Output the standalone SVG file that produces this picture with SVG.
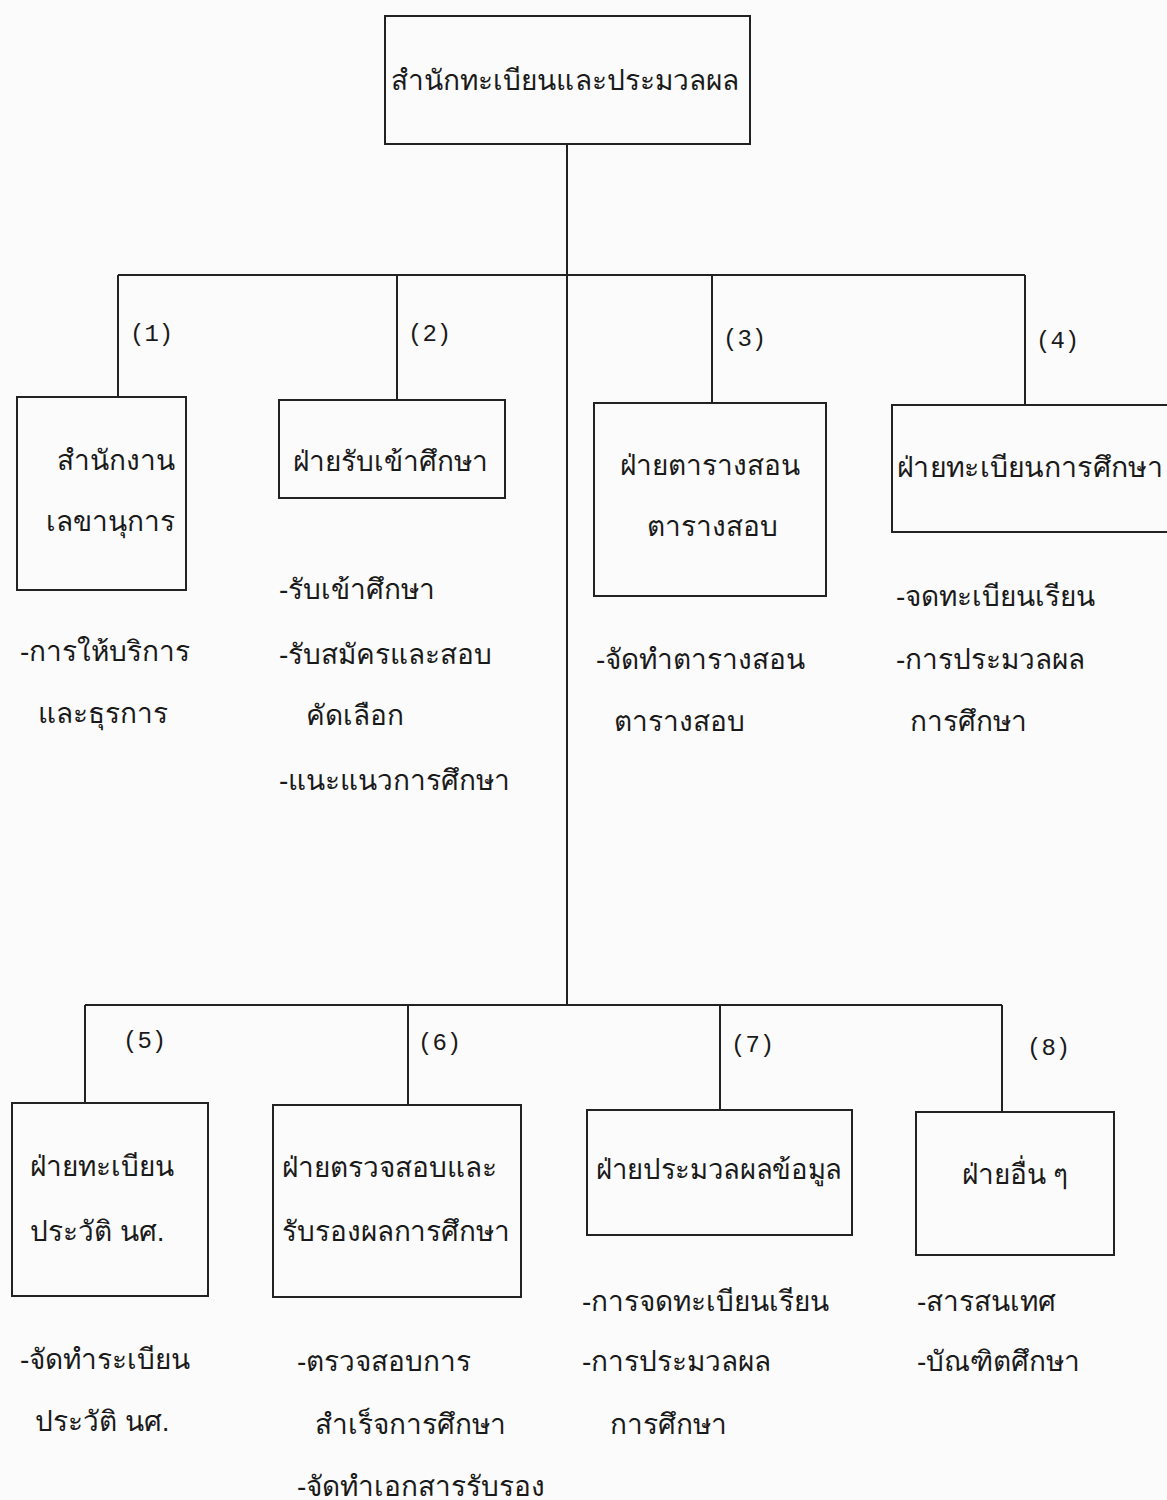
<svg xmlns="http://www.w3.org/2000/svg" width="1167" height="1500" viewBox="0 0 1167 1500">
<style>
.b{fill:none;stroke:#222;stroke-width:2}
.c{fill:none;stroke:#222;stroke-width:2}
.t{font-family:"Liberation Sans","DejaVu Sans",sans-serif;font-size:28px;fill:#1a1a1a}
.m{text-anchor:middle}
.n{font-family:"Liberation Mono","DejaVu Sans Mono",monospace;font-size:24px;fill:#1a1a1a}
</style>
<rect width="1167" height="1500" fill="#fbfbfb"/>
<g id="connectors">
<path class="c" d="M567 144V1005M118 275H1025M118 275V397M397 275V400M712 275V403M1025 275V405M85 1005H1002M85 1005V1103M408 1005V1105M720 1005V1110M1002 1005V1112"/>
</g>
<g id="root"><rect class="b" x="385" y="16" width="365" height="128"/><text class="t" x="391" y="90" textLength="348" lengthAdjust="spacingAndGlyphs">สำนักทะเบียนและประมวลผล</text></g>
<g id="n1"><rect class="b" x="17" y="397" width="169" height="193"/><text class="n" x="130" y="341">(1)</text><text class="t m" x="116" y="470">สำนักงาน</text><text class="t m" x="110" y="531">เลขานุการ</text><text class="t" x="20" y="661">-การให้บริการ</text><text class="t" x="38" y="723">และธุรการ</text></g>
<g id="n2"><rect class="b" x="279" y="400" width="226" height="98"/><text class="n" x="408" y="341">(2)</text><text class="t m" x="390" y="471">ฝ่ายรับเข้าศึกษา</text><text class="t" x="279" y="599">-รับเข้าศึกษา</text><text class="t" x="279" y="664">-รับสมัครและสอบ</text><text class="t" x="306" y="725">คัดเลือก</text><text class="t" x="279" y="790">-แนะแนวการศึกษา</text></g>
<g id="n3"><rect class="b" x="594" y="403" width="232" height="193"/><text class="n" x="723" y="346">(3)</text><text class="t m" x="710" y="475">ฝ่ายตารางสอน</text><text class="t m" x="712" y="536">ตารางสอบ</text><text class="t" x="596" y="669">-จัดทำตารางสอน</text><text class="t" x="614" y="731">ตารางสอบ</text></g>
<g id="n4"><rect class="b" x="892" y="405" width="290" height="127"/><text class="n" x="1036" y="348">(4)</text><text class="t" x="897" y="477" textLength="266" lengthAdjust="spacingAndGlyphs">ฝ่ายทะเบียนการศึกษา</text><text class="t" x="896" y="606">-จดทะเบียนเรียน</text><text class="t" x="896" y="669">-การประมวลผล</text><text class="t" x="910" y="731">การศึกษา</text></g>
<g id="n5"><rect class="b" x="12" y="1103" width="196" height="193"/><text class="n" x="123" y="1048">(5)</text><text class="t" x="30" y="1176">ฝ่ายทะเบียน</text><text class="t" x="30" y="1241">ประวัติ นศ.</text><text class="t" x="20" y="1369">-จัดทำระเบียน</text><text class="t" x="35" y="1431">ประวัติ นศ.</text></g>
<g id="n6"><rect class="b" x="273" y="1105" width="248" height="192"/><text class="n" x="418" y="1050">(6)</text><text class="t" x="282" y="1177">ฝ่ายตรวจสอบและ</text><text class="t" x="282" y="1241" textLength="228" lengthAdjust="spacingAndGlyphs">รับรองผลการศึกษา</text><text class="t" x="297" y="1371">-ตรวจสอบการ</text><text class="t" x="315" y="1434">สำเร็จการศึกษา</text><text class="t" x="297" y="1496">-จัดทำเอกสารรับรอง</text></g>
<g id="n7"><rect class="b" x="587" y="1110" width="265" height="125"/><text class="n" x="731" y="1052">(7)</text><text class="t" x="596" y="1179" textLength="246" lengthAdjust="spacingAndGlyphs">ฝ่ายประมวลผลข้อมูล</text><text class="t" x="582" y="1311">-การจดทะเบียนเรียน</text><text class="t" x="582" y="1371">-การประมวลผล</text><text class="t" x="610" y="1434">การศึกษา</text></g>
<g id="n8"><rect class="b" x="916" y="1112" width="198" height="143"/><text class="n" x="1027" y="1055">(8)</text><text class="t m" x="1015" y="1184">ฝ่ายอื่น ๆ</text><text class="t" x="917" y="1311">-สารสนเทศ</text><text class="t" x="917" y="1371">-บัณฑิตศึกษา</text></g>
</svg>
